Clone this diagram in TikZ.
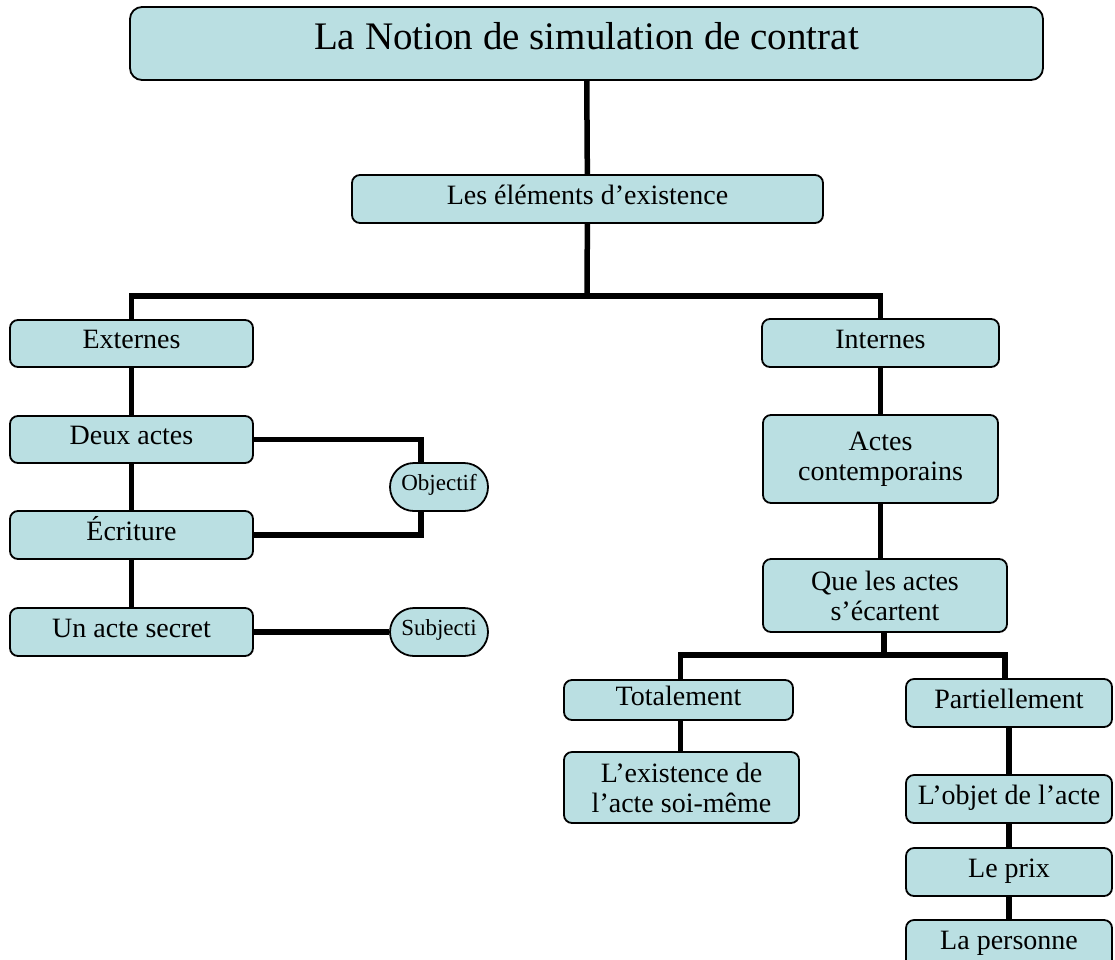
\documentclass[tikz,border=0pt]{standalone}
\usepackage{fontspec}
\setmainfont{Liberation Serif}
\definecolor{boxfill}{HTML}{BADFE2}
\begin{document}
\begin{tikzpicture}[x=1pt,y=-1pt,
  box/.style={draw=black,line width=1.8pt,fill=boxfill,rounded corners=8pt,inner sep=0pt,align=center,font=\fontsize{28}{30}\selectfont},
  one/.style={text height=20pt,text depth=10pt},
  pill/.style={box,rounded corners=24pt,minimum width=98pt,minimum height=48pt,font=\fontsize{23}{26}\selectfont,text height=16pt,text depth=9pt},
  link/.style={line width=5.5pt,line join=miter,line cap=butt},
]
\useasboundingbox (0,0) rectangle (1115,959);
% nodes
\node[box,rounded corners=12pt,minimum width=913pt,minimum height=73pt,font=\fontsize{39}{42}\selectfont,text height=27pt,text depth=16pt] (title) at (586.5,43.5) {La Notion de simulation de contrat};
\node[box,one,minimum width=471pt,minimum height=48pt] (elem) at (587.5,199) {Les éléments d’existence};
\node[box,one,minimum width=243pt,minimum height=47pt] (ext) at (131.5,343.5) {Externes};
\node[box,one,minimum width=237pt,minimum height=48pt] (int) at (880.5,343) {Internes};
\node[box,one,minimum width=243pt,minimum height=47pt] (deux) at (131.5,439.5) {Deux actes};
\node[box,one,minimum width=243pt,minimum height=48pt] (ecr) at (131.5,535) {Écriture};
\node[box,one,minimum width=243pt,minimum height=48pt] (secret) at (131.5,632) {Un acte secret};
\node[pill] (obj) at (439,487) {Objectif};
\node[pill] (subj) at (439,632) {Subjecti};
\node[box,minimum width=235pt,minimum height=88pt] (contemp) at (880.5,459) {Actes\\contemporains};
\node[box,minimum width=244pt,minimum height=73pt] (que) at (885,595.5) {Que les actes\\s’écartent};
\node[box,one,minimum width=229pt,minimum height=40pt] (tot) at (678.5,700) {Totalement};
\node[box,minimum width=235pt,minimum height=71pt] (exist) at (681.5,787.5) {L’existence de\\l’acte soi-même};
\node[box,one,minimum width=206pt,minimum height=48pt] (part) at (1009,703) {Partiellement};
\node[box,one,minimum width=206pt,minimum height=48pt] (objet) at (1009,799) {L’objet de l’acte};
\node[box,one,minimum width=206pt,minimum height=48pt] (prix) at (1009,872) {Le prix};
\node[box,one,minimum width=206pt,minimum height=48pt] (pers) at (1009,944) {La personne};
% junctions
\coordinate (j1) at (587,296);
\coordinate (j2) at (884,655);
% connectors
\draw[link] (title) -- (elem);
\draw[link] (elem) -- (j1);
\draw[link] (ext.north) |- (j1) -| (int.north);
\draw[link] (ext) -- (deux);
\draw[link] (deux) -- (ecr);
\draw[link] (ecr) -- (secret);
\draw[link] (deux.east) -| ([xshift=-18pt]obj.north);
\draw[link] ([xshift=-18pt]obj.south) |- (ecr.east);
\draw[link] (secret) -- (subj);
\draw[link] (int) -- (contemp);
\draw[link] (contemp.south) -- (contemp.south |- que.north);
\draw[link] (que.south -| j2) -- (j2);
\draw[link] ([xshift=2pt]tot.north) |- (j2) -| ([xshift=-4pt]part.north);
\draw[link] ([xshift=2pt]tot.south) -- ([xshift=2pt]tot.south |- exist.north);
\draw[link] (part) -- (objet);
\draw[link] (objet) -- (prix);
\draw[link] (prix) -- (pers);
\end{tikzpicture}
\end{document}
